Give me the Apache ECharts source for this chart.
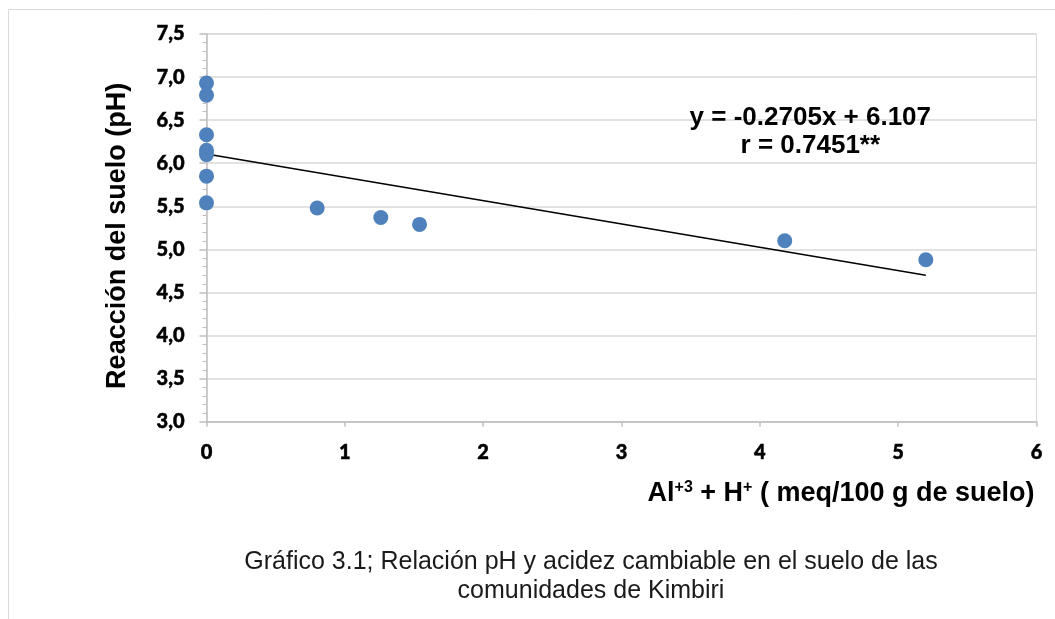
<!DOCTYPE html>
<html>
<head>
<meta charset="utf-8">
<script src="https://cdn.jsdelivr.net/npm/echarts@6/dist/echarts.min.js"></script>
<style>
  html, body { margin: 0; padding: 0; background: #ffffff; }
  #chart { width: 1055px; height: 619px; }
</style>
</head>
<body>
<div id="chart"></div>
<script>
// Exchangeable acidity (Al+3 + H+, meq/100 g) and soil pH per sample
const acidity = [0, 0, 0, 0, 0, 0, 0, 0.80, 1.26, 1.54, 4.18, 5.20];
const soilPH  = [6.93, 6.79, 6.33, 6.15, 6.10, 5.85, 5.54, 5.48, 5.37, 5.29, 5.10, 4.88];

// Linear fit reported on the chart
const slope = -0.2705;
const intercept = 6.107;
const fitRange = [0, 5.20];

const xTicks = { min: 0, max: 6, step: 1 };
const yTicks = { min: 3.0, max: 7.5, step: 0.5 };

const points = acidity.map((x, i) => [x, soilPH[i]]);
const fitLine = fitRange.map(x => [x, slope * x + intercept]);

const chart = echarts.init(document.getElementById('chart'));
const gray = '#d9d9d9';
const axisGray = '#bfbfbf';
const tickFont = 'Lato, "Open Sans", sans-serif';
const titleFont = '"Liberation Sans", Arial, sans-serif';

// bold tick numbers, slightly thickened with an outline
const tickLabel = {
  fontFamily: tickFont, fontWeight: 900, fontSize: 20, color: '#000',
  textBorderColor: '#000', textBorderWidth: 0.5
};

chart.setOption({
  animation: false,
  backgroundColor: '#ffffff',
  grid: {
    left: 206.5, right: 18.5, top: 34, bottom: 197.3,
    show: true, borderColor: gray, borderWidth: 1
  },
  graphic: [
    { type: 'line', shape: { x1: 8.5, y1: 9.5, x2: 1055, y2: 9.5 }, style: { stroke: gray, lineWidth: 1 } },
    { type: 'line', shape: { x1: 8.5, y1: 9.5, x2: 8.5, y2: 619 }, style: { stroke: gray, lineWidth: 1 } },
    {
      type: 'text', x: 591, y: 562,
      style: {
        text: 'Gráfico 3.1; Relación pH y acidez cambiable en el suelo de las',
        font: '25px ' + titleFont, fill: '#1a1a1a', textAlign: 'center', textVerticalAlign: 'middle'
      }
    },
    {
      type: 'text', x: 591, y: 591,
      style: {
        text: 'comunidades de Kimbiri',
        font: '25px ' + titleFont, fill: '#1a1a1a', textAlign: 'center', textVerticalAlign: 'middle'
      }
    }
  ],
  xAxis: {
    type: 'value',
    min: xTicks.min, max: xTicks.max, interval: xTicks.step,
    axisLine: { show: true, lineStyle: { color: axisGray, width: 1.5 } },
    axisTick: { show: true, length: 5, lineStyle: { color: axisGray, width: 1.5 } },
    splitLine: { show: false },
    axisLabel: Object.assign({ margin: 21 }, tickLabel),
    name: '{b|Al}{s|+3}{b| + H}{s|+}{b| ( meq/100 g de suelo)}',
    nameLocation: 'end',
    nameGap: -2,
    nameTextStyle: {
      align: 'right', verticalAlign: 'top', padding: [57, 0, 0, 0],
      rich: {
        b: { fontFamily: titleFont, fontWeight: 'bold', fontSize: 27, color: '#000', lineHeight: 30 },
        s: { fontFamily: titleFont, fontWeight: 'bold', fontSize: 16, color: '#000', lineHeight: 30, padding: [0, 0, 12, 0] }
      }
    }
  },
  yAxis: {
    type: 'value',
    min: yTicks.min, max: yTicks.max, interval: yTicks.step,
    axisLine: { show: true, lineStyle: { color: axisGray, width: 1.5 } },
    axisTick: { show: true, length: 7, lineStyle: { color: axisGray, width: 1.5 } },
    minorTick: { show: true, splitNumber: 5, length: 4, lineStyle: { color: axisGray, width: 1 } },
    splitLine: { show: true, lineStyle: { color: gray, width: 1.5 } },
    axisLabel: Object.assign({
      margin: 22,
      formatter: v => v.toFixed(1).replace('.', ',')
    }, tickLabel),
    name: 'Reacción del suelo (pH)',
    nameLocation: 'middle',
    nameGap: 75,
    nameTextStyle: {
      fontFamily: titleFont, fontWeight: 'bold', fontSize: 27, color: '#000',
      padding: [0, 16, 0, 0]
    }
  },
  series: [
    {
      type: 'line',
      data: fitLine,
      symbol: 'none',
      lineStyle: { color: '#000', width: 1.5 },
      z: 2,
      markPoint: {
        symbol: 'rect', symbolSize: 0,
        data: [{
          coord: [4.365, 6.37],
          label: {
            show: true,
            formatter: 'y = ' + slope.toFixed(4) + 'x + ' + intercept.toFixed(3) + '\nr = 0.7451**',
            fontFamily: titleFont, fontWeight: 'bold', fontSize: 26, color: '#000',
            lineHeight: 28, align: 'center'
          }
        }]
      }
    },
    {
      type: 'scatter',
      data: points,
      symbol: 'circle',
      symbolSize: 15,
      itemStyle: { color: '#4F81BD', opacity: 1 },
      z: 3
    }
  ]
});
</script>
</body>
</html>
